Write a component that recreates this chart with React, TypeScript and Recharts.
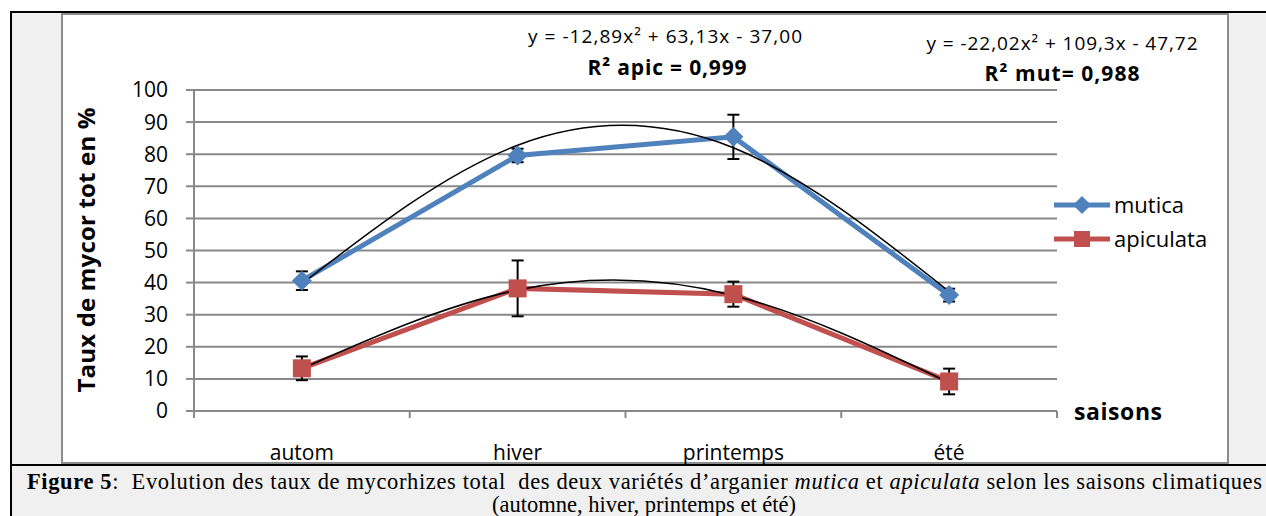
import React from "react";
import { LineChart, Line, XAxis, YAxis, CartesianGrid, ErrorBar } from "recharts";

const SEASONS = ["autom", "hiver", "printemps", "été"];
const MUTICA = [40.6, 79.6, 85.4, 36.1];
const MUTICA_ERR = [2.9, 2.1, 6.9, 2.0];
const APICULATA = [13.3, 38.2, 36.4, 9.2];
const APICULATA_ERR = [3.7, 8.7, 3.9, 4.0];
// polynomial trend curves, values read at each season
const MUTICA_TREND = [39.6, 82.8, 82.0, 37.2];
const APICULATA_TREND = [13.2, 37.7, 36.0, 8.8];
const Y_TICKS = [0, 10, 20, 30, 40, 50, 60, 70, 80, 90, 100];

const SERIES = [
  { key: "mutica", color: "#4F81BD", shape: "diamond" },
  { key: "apiculata", color: "#C0504D", shape: "square" },
];

const data = SEASONS.map((season, i) => ({
  season,
  mutica: MUTICA[i],
  mutErr: MUTICA_ERR[i],
  apiculata: APICULATA[i],
  apiErr: APICULATA_ERR[i],
  mutTrend: MUTICA_TREND[i],
  apiTrend: APICULATA_TREND[i],
}));

const GRID = "#898989";
const FONT = '"Open Sans", sans-serif';
const SERIF = '"Liberation Serif", "Times New Roman", serif';

function Marker({ shape, cx, cy, fill, size }: any) {
  if (shape === "diamond") {
    const r = size / 2 + 1;
    return <path d={`M${cx} ${cy - r}L${cx + r} ${cy}L${cx} ${cy + r}L${cx - r} ${cy}Z`} fill={fill} />;
  }
  const s = size / 2;
  return <rect x={cx - s} y={cy - s} width={size} height={size} fill={fill} />;
}

function SeasonTick(props: any) {
  const { x, y, payload, index } = props;
  const half = payload && payload.offset ? payload.offset : 108;
  const last = index === SEASONS.length - 1;
  return (
    <g>
      <line x1={x - half} x2={x - half} y1={y} y2={y + 7} stroke={GRID} strokeWidth={2} />
      {last && <line x1={x + half} x2={x + half} y1={y} y2={y + 7} stroke={GRID} strokeWidth={2} />}
      <text x={x} y={y + 49} textAnchor="middle" fontSize={21} fill="#000" fontFamily={FONT}>
        {payload.value}
      </text>
    </g>
  );
}

export default function App() {
  return (
    <div
      style={{
        position: "absolute",
        left: 0,
        top: 0,
        width: 1266,
        height: 516,
        overflow: "hidden",
        background: "#fff",
        fontFamily: FONT,
      }}
    >
      {/* outer figure frame */}
      <div
        style={{
          position: "absolute",
          left: 10,
          top: 11,
          width: 1300,
          height: 520,
          background: "#f0f0f0",
          borderLeft: "2px solid #000",
          borderTop: "2px solid #000",
        }}
      />
      {/* chart area */}
      <div
        style={{
          position: "absolute",
          left: 61,
          top: 13,
          width: 1168,
          height: 451,
          boxSizing: "border-box",
          background: "#fff",
          border: "2px solid #8c8c8c",
        }}
      />

      <div style={{ position: "absolute", left: 61, top: 13 }}>
        <LineChart width={1168} height={475} data={data} margin={{ top: 77, right: 172, left: 0, bottom: 0 }}>
          <CartesianGrid vertical={false} stroke={GRID} strokeWidth={2} />
          <XAxis
            dataKey="season"
            scale="band"
            height={77}
            interval={0}
            tickSize={0}
            tickMargin={0}
            tickLine={false}
            axisLine={{ stroke: GRID, strokeWidth: 2 }}
            tick={<SeasonTick />}
          />
          <YAxis
            domain={[0, 100]}
            ticks={Y_TICKS}
            interval={0}
            width={133}
            tickSize={8}
            tickMargin={18}
            axisLine={{ stroke: GRID, strokeWidth: 2 }}
            tickLine={{ stroke: GRID, strokeWidth: 2 }}
            tick={{ fill: "#000", fontSize: 21, fontFamily: FONT }}
          />
          <Line
            dataKey="mutica"
            stroke="#4F81BD"
            strokeWidth={5}
            isAnimationActive={false}
            activeDot={false}
            dot={(p: any) => <Marker key={`m${p.index}`} shape="diamond" cx={p.cx} cy={p.cy} fill="#4F81BD" size={18} />}
          >
            <ErrorBar dataKey="mutErr" direction="y" width={6} stroke="#000" strokeWidth={2} />
          </Line>
          <Line
            dataKey="apiculata"
            stroke="#C0504D"
            strokeWidth={5}
            isAnimationActive={false}
            activeDot={false}
            dot={(p: any) => <Marker key={`a${p.index}`} shape="square" cx={p.cx} cy={p.cy} fill="#C0504D" size={18} />}
          >
            <ErrorBar dataKey="apiErr" direction="y" width={6} stroke="#000" strokeWidth={2} />
          </Line>
          <Line
            dataKey="mutTrend"
            type="natural"
            stroke="#000"
            strokeWidth={1.5}
            dot={false}
            activeDot={false}
            legendType="none"
            isAnimationActive={false}
          />
          <Line
            dataKey="apiTrend"
            type="natural"
            stroke="#000"
            strokeWidth={1.5}
            dot={false}
            activeDot={false}
            legendType="none"
            isAnimationActive={false}
          />
        </LineChart>
      </div>

      {/* caption separator */}
      <div style={{ position: "absolute", left: 10, top: 464, width: 1300, height: 2, background: "#000" }} />

      {/* annotations */}
      <svg
        width={1266}
        height={516}
        style={{ position: "absolute", left: 0, top: 0, pointerEvents: "none" }}
        fontFamily={FONT}
      >
        <text x={665} y={43} textAnchor="middle" fontSize={19} fill="#000" textLength={274}>
          y = -12,89x² + 63,13x - 37,00
        </text>
        <text x={667} y={75} textAnchor="middle" fontSize={21} fontWeight="bold" fill="#000" textLength={159}>
          R² apic = 0,999
        </text>
        <text x={1062} y={50} textAnchor="middle" fontSize={19} fill="#000" textLength={271}>
          y = -22,02x² + 109,3x - 47,72
        </text>
        <text x={1062} y={81} textAnchor="middle" fontSize={21} fontWeight="bold" fill="#000" textLength={155}>
          R² mut= 0,988
        </text>

        <text
          x={85}
          y={250}
          transform="rotate(-90, 85, 250)"
          textAnchor="middle"
          dominantBaseline="central"
          fontSize={24}
          fontWeight="bold"
          fill="#000"
          textLength={285}
        >
          Taux de mycor tot en %
        </text>
        <text x={1074} y={420} fontSize={23} fontWeight="bold" fill="#000" textLength={88}>
          saisons
        </text>

        {SERIES.map((s, i) => {
          const y = 205 + i * 34;
          return (
            <g key={s.key}>
              <line x1={1054} x2={1110} y1={y} y2={y} stroke={s.color} strokeWidth={5} />
              <Marker shape={s.shape} cx={1082} cy={y} fill={s.color} size={16} />
              <text x={1114} y={y + 8} fontSize={22} fill="#000">
                {s.key}
              </text>
            </g>
          );
        })}

        <text x={27} y={489} fontFamily={SERIF} fontSize={22.5} fill="#000" textLength={1235} style={{ whiteSpace: "pre" }}>
          <tspan fontWeight="bold">Figure 5</tspan>
          <tspan>{":  Evolution des taux de mycorhizes total  des deux variétés d’arganier "}</tspan>
          <tspan fontStyle="italic">mutica</tspan>
          <tspan>{" et "}</tspan>
          <tspan fontStyle="italic">apiculata</tspan>
          <tspan>{" selon les saisons climatiques"}</tspan>
        </text>
        <text x={644} y={512} textAnchor="middle" fontFamily={SERIF} fontSize={22.5} fill="#000">
          (automne, hiver, printemps et été)
        </text>
      </svg>
    </div>
  );
}
